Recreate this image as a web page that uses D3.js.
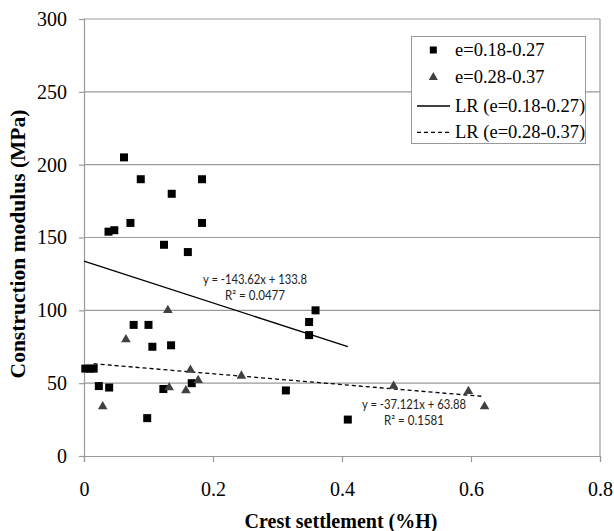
<!DOCTYPE html>
<html><head><meta charset="utf-8">
<script src="https://cdn.jsdelivr.net/npm/d3@7"></script>
<style>body{margin:0;background:#fff}svg{display:block}</style>
</head><body>
<svg id="c" width="614" height="531"></svg>
<script>
// Series e=0.18-0.27 (squares)
const sqX = [0.062,0.088,0.183,0.136,0.038,0.047,0.072,0.183,0.124,0.161,0.077,0.100,0.349,0.359,0.349,0.106,0.135,0.002,0.009,0.015,0.023,0.039,0.123,0.167,0.098,0.313,0.409];
const sqY = [205,190,190,180,154,155,160,160,145,140,90,90,92,100,83,75,76,60,60,60,48,47,46,50,26,45,25];
// Series e=0.28-0.37 (triangles)
const triX = [0.065,0.029,0.132,0.158,0.165,0.177,0.244,0.130,0.480,0.596,0.621];
const triY = [80,34,47,45,59,52,55,100,48,44.5,34];
// Linear regressions
const lr1 = {slope:-143.62, intercept:133.8, range:[0,0.409]};
const lr2 = {slope:-37.121, intercept:63.88, range:[0.015,0.62]};
const eq1 = ["y = -143.62x + 133.8","R² = 0.0477"];
const eq2 = ["y = -37.121x + 63.88","R² = 0.1581"];
const xTicks = [0,0.2,0.4,0.6,0.8];
const yTicks = [0,50,100,150,200,250,300];
const legendLabels = ["e=0.18-0.27","e=0.28-0.37","LR (e=0.18-0.27)","LR (e=0.28-0.37)"];

const svg = d3.select("#c");
const x = d3.scaleLinear().domain([0,0.8]).range([84,600]);
const y = d3.scaleLinear().domain([0,300]).range([456,19]);
const serif = "'Liberation Serif','Times New Roman',serif";
const grid = "#9a9a9a";

// gridlines
svg.append("g").selectAll("line").data(yTicks.filter(d=>d>0)).join("line")
  .attr("x1",x(0)).attr("x2",x(0.8)).attr("y1",d=>y(d)).attr("y2",d=>y(d))
  .attr("stroke",grid).attr("stroke-width",1.2);
// right border
svg.append("line").attr("x1",x(0.8)).attr("x2",x(0.8)).attr("y1",y(300)).attr("y2",y(0))
  .attr("stroke",grid).attr("stroke-width",1.2);

// axes
const xa = svg.append("g").attr("transform",`translate(0,${y(0)})`)
  .call(d3.axisBottom(x).tickValues(xTicks).tickFormat(d=>d===0?"0":d3.format(".1f")(d)).tickSize(6).tickPadding(20));
const ya = svg.append("g").attr("transform",`translate(${x(0)},0)`)
  .call(d3.axisLeft(y).tickValues(yTicks).tickSize(5).tickPadding(12));
[xa,ya].forEach(a=>{
  a.select(".domain").attr("stroke",grid).attr("stroke-width",1.2);
  a.selectAll(".tick line").attr("stroke",grid).attr("stroke-width",1.2);
  a.selectAll("text").attr("font-family",serif).attr("font-size",20).attr("fill","#000");
});

// regression lines
function lrLine(lr){ return lr.range.map(v=>[x(v), y(lr.slope*v+lr.intercept)]); }
svg.append("path").attr("d",d3.line()(lrLine(lr1))).attr("stroke","#000").attr("stroke-width",1.3).attr("fill","none");
svg.append("path").attr("d",d3.line()(lrLine(lr2))).attr("stroke","#000").attr("stroke-width",1.3)
  .attr("stroke-dasharray","4,3").attr("fill","none");

// points
const sq = d3.symbol().type(d3.symbolSquare).size(64);
const tri = d3.symbol().type(d3.symbolTriangle).size(40);
svg.append("g").selectAll("path").data(d3.range(sqX.length)).join("path")
  .attr("transform",i=>`translate(${x(sqX[i])},${y(sqY[i])})`).attr("d",sq).attr("fill","#000");
svg.append("g").selectAll("path").data(d3.range(triX.length)).join("path")
  .attr("transform",i=>`translate(${x(triX[i])},${y(triY[i])})`).attr("d",tri).attr("fill","#404040");

// equations
const sans = "Lato,'Open Sans',sans-serif";
function eq(lines, cx, cy){
  svg.append("g").selectAll("text").data(lines).join("text")
    .attr("x",cx).attr("y",(d,i)=>cy+i*15.5).attr("text-anchor","middle")
    .attr("font-family",sans).attr("font-size",12.5).attr("fill","#222")
    .attr("textLength",(d,i)=>i===0?104:60).attr("lengthAdjust","spacingAndGlyphs").text(d=>d);
}
eq(eq1, 255, 284);
eq(eq2, 414, 409);

// legend
const lg = svg.append("g");
lg.append("rect").attr("x",411.5).attr("y",36.5).attr("width",174).attr("height",107)
  .attr("fill","#fff").attr("stroke","#999").attr("stroke-width",1);
const rows = [50,77.3,106,132.3];
lg.append("path").attr("transform",`translate(433.3,${rows[0]})`).attr("d",d3.symbol().type(d3.symbolSquare).size(49)).attr("fill","#000");
lg.append("path").attr("transform",`translate(433.3,${rows[1]})`).attr("d",d3.symbol().type(d3.symbolTriangle).size(36)).attr("fill","#404040");
lg.append("line").attr("x1",417).attr("x2",450).attr("y1",rows[2]).attr("y2",rows[2]).attr("stroke","#000").attr("stroke-width",1.3);
lg.append("line").attr("x1",417).attr("x2",450).attr("y1",rows[3]).attr("y2",rows[3]).attr("stroke","#000").attr("stroke-width",1.3).attr("stroke-dasharray","4,3");
lg.selectAll("text.l").data(legendLabels).join("text").attr("class","l")
  .attr("x",455).attr("y",(d,i)=>rows[i]+6).attr("font-family",serif).attr("font-size",18.5).attr("fill","#000").text(d=>d);

// axis titles
svg.append("text").attr("x",341).attr("y",528).attr("text-anchor","middle")
  .attr("font-family",serif).attr("font-weight","bold").attr("font-size",20).text("Crest settlement (%H)");
svg.append("text").attr("transform","translate(25,244) rotate(-90)").attr("text-anchor","middle")
  .attr("font-family",serif).attr("font-weight","bold").attr("font-size",21.5).text("Construction modulus (MPa)");
</script>
</body></html>
